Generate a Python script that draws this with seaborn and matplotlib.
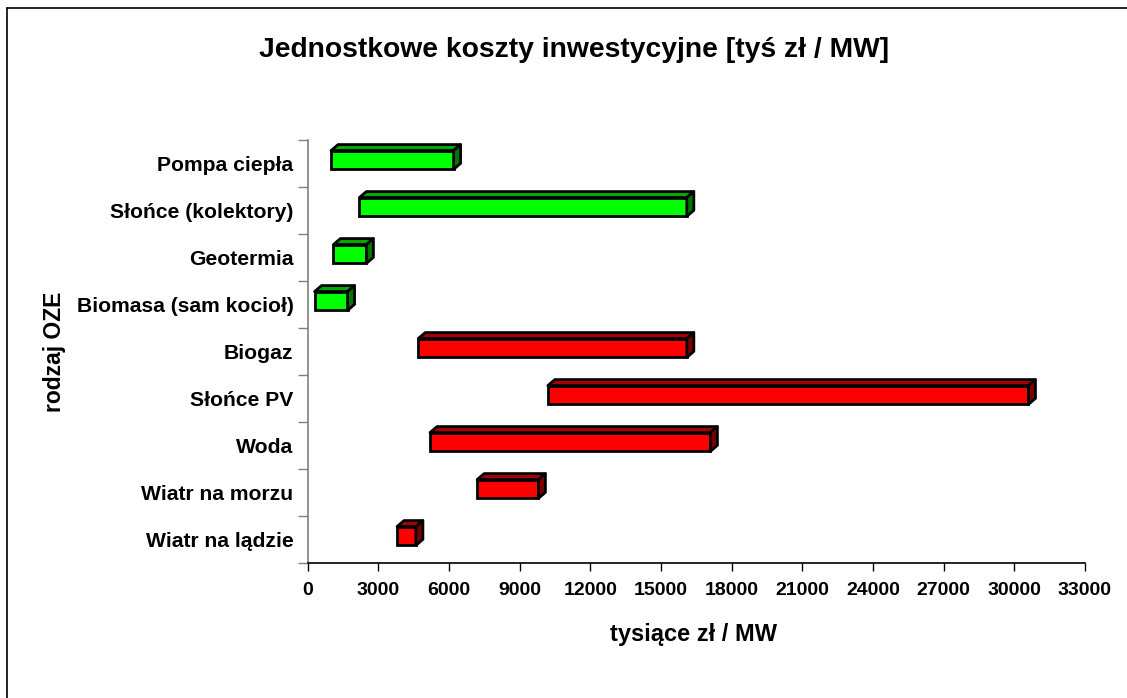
import matplotlib
matplotlib.use("Agg")
import matplotlib.pyplot as plt
import seaborn as sns
import pandas as pd
import numpy as np
from matplotlib.patches import Polygon
from matplotlib.lines import Line2D

# ---- data ----
categories = ["Pompa ciepła", "Słońce (kolektory)", "Geotermia", "Biomasa (sam kocioł)",
              "Biogaz", "Słońce PV", "Woda", "Wiatr na morzu", "Wiatr na lądzie"]
cost_min = [1000, 2200, 1100, 300, 4700, 10200, 5200, 7200, 3800]
cost_max = [6200, 16100, 2500, 1700, 16100, 30600, 17100, 9800, 4600]
group = ["ciepło", "ciepło", "ciepło", "ciepło",
         "energia", "energia", "energia", "energia", "energia"]
x_ticks = list(range(0, 33001, 3000))

front_col = {"ciepło": "#00FF00", "energia": "#FF0000"}
top_col = {"ciepło": "#00A800", "energia": "#A80000"}
side_col = {"ciepło": "#007800", "energia": "#780000"}

df = pd.DataFrame({"kategoria": categories, "min": cost_min, "max": cost_max, "grupa": group})

sns.set_style("white")
plt.rcParams["font.family"] = ["Liberation Sans", "DejaVu Sans"]
plt.rcParams["font.weight"] = "bold"
plt.rcParams["text.color"] = "black"
plt.rcParams["xtick.color"] = "black"
plt.rcParams["ytick.color"] = "black"
plt.rcParams["xtick.labelcolor"] = "black"
plt.rcParams["ytick.labelcolor"] = "black"

W, H = 1127, 698
fig = plt.figure(figsize=(W / 100, H / 100), dpi=100)
ax_l, ax_r, ax_t, ax_b = 307.5, 1085, 140, 563
ax = fig.add_axes([ax_l / W, 1 - ax_b / H, (ax_r - ax_l) / W, (ax_b - ax_t) / H])

sns.barplot(data=df, x="max", y="kategoria", hue="grupa", palette=front_col,
            saturation=1, dodge=False, legend=False, width=0.4, edgecolor="black",
            linewidth=2.0, ax=ax, orient="h")

ax.set_xlim(0, 33000)
ax.set_ylim(len(categories) - 0.5, -0.5)

bar_h = 0.4
shift = 0.075
px_x = (ax_r - ax_l) / 33000.0
px_y = (ax_b - ax_t) / len(categories)
dx = 7 / px_x
dy = 6 / px_y

for p in ax.patches:
    w = p.get_width()
    if not np.isfinite(w) or w == 0:
        continue
    i = int(round(p.get_y() + p.get_height() / 2))
    x0, x1 = cost_min[i], cost_max[i]
    g = group[i]
    yt = i - shift - bar_h / 2
    yb = yt + bar_h
    p.set_x(x0)
    p.set_width(x1 - x0)
    p.set_y(yt)
    p.set_height(bar_h)
    p.set_zorder(3)
    top = Polygon([(x0, yt), (x1, yt), (x1 + dx, yt - dy), (x0 + dx, yt - dy)],
                  closed=True, facecolor=top_col[g], edgecolor="black",
                  linewidth=2.0, zorder=3, joinstyle="round")
    side = Polygon([(x1, yt), (x1, yb), (x1 + dx, yb - dy), (x1 + dx, yt - dy)],
                   closed=True, facecolor=side_col[g], edgecolor="black",
                   linewidth=2.0, zorder=3, joinstyle="round")
    ax.add_patch(top)
    ax.add_patch(side)

# axes styling
for s in ["top", "right"]:
    ax.spines[s].set_visible(False)
ax.spines["left"].set_color("#808080")
ax.spines["left"].set_linewidth(1.2)
ax.spines["bottom"].set_color("black")
ax.spines["bottom"].set_linewidth(1.2)

ax.set_xticks(x_ticks)
ax.set_xticklabels([str(v) for v in x_ticks], fontsize=14, fontweight="bold")
ax.tick_params(axis="x", which="major", direction="out", length=6, width=1,
               color="black", pad=8, bottom=True)

ax.set_yticks(range(len(categories)))
ax.set_yticklabels(categories, fontsize=15.2, fontweight="bold")
ax.tick_params(axis="y", which="major", length=0, pad=10, left=False)
ax.set_yticks(np.arange(-0.5, len(categories), 1.0), minor=True)
ax.tick_params(axis="y", which="minor", direction="out", length=7, width=1,
               color="#808080", left=True)

ax.set_xlabel("")
ax.set_ylabel("")
ax.grid(False)

fig.text(574 / W, 1 - 50 / H, "Jednostkowe koszty inwestycyjne [tyś zł / MW]",
         ha="center", va="center", fontsize=20.3, fontweight="bold")
fig.text(694 / W, 1 - 635 / H, "tysiące zł / MW", ha="center", va="center",
         fontsize=17, fontweight="bold")
fig.text(55 / W, 1 - 352 / H, "rodzaj OZE", ha="center", va="center",
         rotation=90, fontsize=16.5, fontweight="bold")

# outer chart frame (left and top edges visible)
fig.add_artist(Line2D([7 / W, 7 / W], [0, 1 - 8 / H], color="black", lw=1.2,
                      transform=fig.transFigure))
fig.add_artist(Line2D([7 / W, 1], [1 - 8 / H, 1 - 8 / H], color="black", lw=1.2,
                      transform=fig.transFigure))

fig.savefig("out.png", dpi=100)
